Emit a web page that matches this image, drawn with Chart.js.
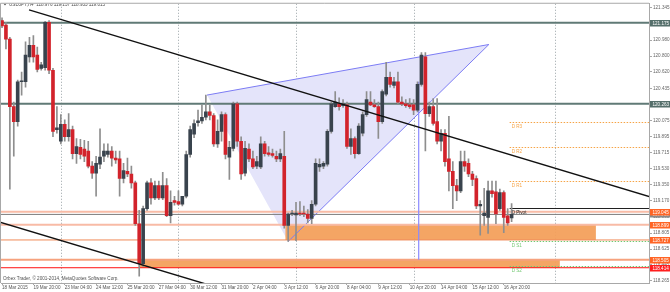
<!DOCTYPE html>
<html>
<head>
<meta charset="utf-8">
<title>USDJPY,H4</title>
<script src="https://cdn.jsdelivr.net/npm/chart.js@4.4.1/dist/chart.umd.min.js"></script>
<style>
  html, body { margin: 0; padding: 0; background: #fff; }
  canvas { display: block; }
</style>
</head>
<body>
<canvas id="chart" width="670" height="292"></canvas>
<script>
// H4 candles, 18 Mar 2015 12:00 .. 17 Apr 2015 04:00
const opens = [
  121.20, 121.15, 120.99, 120.23, 120.06, 120.51, 120.51, 120.79, 120.92, 120.81,
  120.66, 120.67, 121.18, 120.64, 119.97, 119.84, 120.03, 119.89, 119.97, 119.70,
  119.77, 119.75, 119.73, 119.56, 119.48, 119.58, 119.67, 119.69, 119.73, 119.65,
  119.64, 119.42, 119.50, 119.47, 119.37, 118.91, 118.46, 119.08, 119.37, 119.20,
  119.34, 119.20, 119.34, 119.00, 119.17, 119.16, 119.13, 119.22, 119.69, 119.92,
  120.05, 120.07, 120.11, 120.17, 120.13, 119.81, 119.95, 120.14, 119.66, 119.76,
  120.26, 119.84, 119.48, 119.75, 119.64, 119.56, 119.55, 119.81, 119.71, 119.70,
  119.67, 119.64, 119.67, 118.89, 119.02, 119.01, 119.03, 119.03, 119.02, 118.97,
  119.13, 119.55, 119.56, 119.58, 119.95, 120.23, 120.26, 120.24, 120.25, 119.78,
  119.87, 119.70, 119.93, 120.14, 120.28, 120.25, 120.23, 120.06, 120.37, 120.56,
  120.47, 120.51, 120.28, 120.26, 120.25, 120.25, 120.19, 120.48, 120.79, 120.15,
  120.23, 120.06, 119.84, 119.93, 119.64, 119.50, 119.34, 119.28, 119.61, 119.59,
  119.47, 119.42, 119.11, 119.00, 118.98, 119.28, 119.27, 119.08, 119.26, 119.00,
  118.976
];
const highs = [
  121.23, 121.18, 121.01, 120.28, 120.53, 120.62, 120.96, 121.01, 121.03, 120.90,
  120.73, 121.19, 121.20, 120.66, 120.23, 120.14, 120.08, 120.15, 120.01, 119.87,
  119.86, 119.85, 119.84, 119.61, 119.67, 119.98, 119.81, 119.81, 119.78, 119.73,
  119.73, 119.59, 119.65, 119.56, 119.39, 119.06, 119.11, 119.39, 119.42, 119.39,
  119.39, 119.49, 119.42, 119.28, 119.22, 119.28, 119.22, 119.73, 120.01, 120.08,
  120.19, 120.25, 120.36, 120.25, 120.15, 120.08, 120.17, 120.16, 119.84, 120.28,
  120.28, 119.89, 119.84, 119.81, 119.73, 119.67, 119.89, 119.84, 119.78, 119.75,
  119.73, 119.75, 119.95, 119.03, 119.06, 119.15, 119.16, 119.11, 119.07, 119.17,
  119.64, 119.64, 119.61, 119.97, 120.28, 120.40, 120.33, 120.31, 120.28, 119.98,
  119.89, 120.04, 120.17, 120.40, 120.40, 120.31, 120.28, 120.42, 120.73, 120.62,
  120.56, 120.62, 120.34, 120.31, 120.32, 120.31, 120.51, 120.84, 120.84, 120.28,
  120.32, 120.32, 119.97, 119.97, 120.12, 119.61, 119.41, 119.73, 119.73, 119.64,
  119.50, 119.45, 119.17, 119.31, 119.39, 119.39, 119.39, 119.30, 119.28, 119.08,
  119.137
];
const lows = [
  121.12, 120.88, 119.30, 119.67, 120.01, 120.36, 120.45, 120.73, 120.73, 120.62,
  120.64, 120.64, 120.60, 119.89, 119.93, 119.81, 119.84, 119.84, 119.64, 119.59,
  119.64, 119.61, 119.54, 119.42, 119.22, 119.53, 119.61, 119.66, 119.56, 119.59,
  119.22, 119.37, 119.44, 119.31, 118.89, 118.32, 118.43, 119.06, 119.13, 119.18,
  119.18, 119.18, 118.99, 118.92, 119.12, 119.12, 119.11, 119.20, 119.66, 119.88,
  120.01, 120.04, 120.08, 120.08, 119.78, 119.77, 119.84, 119.64, 119.41, 119.73,
  119.78, 119.41, 119.45, 119.61, 119.53, 119.53, 119.53, 119.67, 119.67, 119.66,
  119.61, 119.61, 118.86, 118.71, 119.00, 118.72, 119.00, 118.99, 118.92, 118.91,
  119.11, 119.50, 119.53, 119.56, 119.93, 120.22, 120.19, 120.22, 119.76, 119.69,
  119.65, 119.69, 119.90, 120.12, 120.24, 120.22, 119.87, 120.04, 120.35, 120.45,
  120.44, 120.26, 120.24, 120.22, 120.21, 120.14, 120.17, 120.46, 119.73, 120.12,
  120.02, 119.81, 119.73, 119.56, 119.28, 119.08, 119.17, 119.26, 119.50, 119.44,
  119.34, 119.08, 118.78, 118.89, 118.80, 119.21, 118.91, 119.06, 118.81, 118.89,
  118.933
];
const closes = [
  121.14, 120.99, 120.23, 120.06, 120.51, 120.52, 120.81, 120.92, 120.79, 120.65,
  120.70, 121.18, 120.64, 119.95, 119.99, 120.03, 119.89, 119.97, 119.70, 119.78,
  119.69, 119.67, 119.56, 119.48, 119.59, 119.66, 119.73, 119.73, 119.65, 119.63,
  119.42, 119.51, 119.47, 119.37, 118.91, 118.46, 119.08, 119.37, 119.20, 119.34,
  119.20, 119.34, 119.00, 119.15, 119.15, 119.13, 119.22, 119.69, 119.97, 120.04,
  120.07, 120.11, 120.17, 120.13, 119.81, 119.95, 120.14, 119.69, 119.77, 120.26,
  119.84, 119.47, 119.76, 119.64, 119.55, 119.61, 119.81, 119.70, 119.69, 119.68,
  119.64, 119.70, 118.89, 119.02, 119.02, 119.03, 119.02, 119.02, 118.97, 119.13,
  119.59, 119.58, 119.59, 119.95, 120.26, 120.28, 120.23, 120.26, 119.78, 119.87,
  119.70, 120.01, 120.14, 120.31, 120.25, 120.23, 120.06, 120.40, 120.56, 120.48,
  120.51, 120.28, 120.26, 120.24, 120.23, 120.19, 120.48, 120.81, 120.15, 120.23,
  120.04, 119.84, 119.93, 119.61, 119.50, 119.34, 119.28, 119.61, 119.56, 119.47,
  119.41, 119.11, 119.13, 119.03, 119.28, 119.25, 119.02, 119.26, 118.98, 118.92,
  119.015
];

// time axis: one label every 8 bars
const timeLabels = ['18 Mar 2015', '19 Mar 20:00', '23 Mar 04:00', '24 Mar 12:00', '25 Mar 20:00',
  '27 Mar 04:00', '30 Mar 12:00', '31 Mar 20:00', '2 Apr 04:00', '3 Apr 12:00', '6 Apr 20:00',
  '8 Apr 04:00', '9 Apr 12:00', '10 Apr 20:00', '14 Apr 04:00', '15 Apr 12:00', '16 Apr 20:00'];
const labelStep = 8;
const weekStarts = [15, 45, 75, 105, 141];

// price axis
const priceTicks = [121.345, 121.160, 120.980, 120.800, 120.620, 120.435, 120.255, 120.075, 119.895,
  119.715, 119.530, 119.350, 119.170, 118.990, 118.805, 118.625, 118.445, 118.265];

// horizontal lines and their price tags
const levelPrices = [121.175, 120.263, 119.045, 119.015, 118.899, 118.727, 118.505, 118.414];

// zones: [top, bottom, fromBar, toBar]
const zoneTop = [118.899, 118.505];
const zoneBottom = [118.727, 118.414];
const zoneFrom = [72.3, 34.9];
const zoneTo = [151.5, 142.3];

// triangle anchors (bar, price)
const triBars = [52.3, 124.2, 73.0];
const triPrices = [120.36, 120.93, 118.71];

// channel lines (two anchors each)
const upperBars = [6.9, 164.8];
const upperPrices = [121.32, 119.22];
const lowerBars = [0, 51.3];
const lowerPrices = [118.92, 118.24];

// vertical marker
const markerBar = 106.3;
const markerPrices = [120.51, 118.505];

// daily pivots
const pivotNames = ['D R3', 'D R2', 'D R1', 'D Pivot', 'D S1', 'D S2'];
const pivotPrices = [120.06, 119.77, 119.39, 119.09, 118.71, 118.43];
const pivotStart = 129.5;

const titleText = 'USDJPY,H4  118.976 119.137 118.933 119.015';
const footerText = 'Orbex Trader, \u00a9 2001-2014, MetaQuotes Software Corp.';

// styles
const FONT = '"Liberation Sans", Arial, sans-serif';
const levelStyle = [
  { color: '#607a76', width: 2 }, { color: '#607a76', width: 2 },
  { color: '#f8bba6', width: 2 }, { color: '#7c7c7c', width: 1 },
  { color: '#f8bba6', width: 2 }, { color: '#f08a58', width: 1 },
  { color: '#f6a27e', width: 2 }, { color: '#ff1010', width: 1 }
];
const tagColors = ['#556f6b', '#556f6b', '#ff6424', '#8a8a8a', '#ff6424', '#ff6424', '#ff6424', '#ff1e1e'];
const tagOrder = [0, 1, 3, 2, 4, 5, 6, 7];
const pivotColors = ['#f6a446', '#f6a446', '#f6a446', '#202020', '#72c872', '#72c872'];

Chart.defaults.font.family = FONT;

const bars = opens.map((_, i) => i);
const wickData = bars.map(i => ({ x: i, y: [lows[i], highs[i]] }));
const bodyData = bars.map(i => ({ x: i, y: [opens[i], closes[i]] }));
const bodyColors = bars.map(i => closes[i] >= opens[i] ? '#39434d' : '#d2232b');

function seg(ctx, x1, y1, x2, y2) {
    ctx.beginPath();
    ctx.moveTo(x1, y1);
    ctx.lineTo(x2, y2);
    ctx.stroke();
}

const objectsPlugin = {
    id: 'objects',
    beforeDatasetsDraw(chart) {
        const { ctx, chartArea: a, scales: { x, y } } = chart;
        ctx.save();
        ctx.beginPath();
        ctx.rect(a.left, a.top, a.right - a.left, a.bottom - a.top);
        ctx.clip();

        // weekly separators
        ctx.strokeStyle = '#98a2a6';
        ctx.lineWidth = 1;
        ctx.setLineDash([1, 2]);
        weekStarts.forEach(b => {
            const px = Math.round(x.getPixelForValue(b)) + 0.5;
            seg(ctx, px, a.top, px, a.bottom);
        });
        ctx.setLineDash([]);

        // triangle
        const tp = triBars.map((b, k) => [x.getPixelForValue(b), y.getPixelForValue(triPrices[k])]);
        ctx.fillStyle = '#e4e4fa';
        ctx.beginPath();
        ctx.moveTo(tp[0][0], tp[0][1]);
        ctx.lineTo(tp[1][0], tp[1][1]);
        ctx.lineTo(tp[2][0], tp[2][1]);
        ctx.closePath();
        ctx.fill();

        // zones
        ctx.fillStyle = 'rgba(243, 160, 92, 0.95)';
        zoneTop.forEach((t, k) => {
            const x1 = x.getPixelForValue(zoneFrom[k]);
            const x2 = x.getPixelForValue(zoneTo[k]);
            const y1 = y.getPixelForValue(t);
            const y2 = y.getPixelForValue(zoneBottom[k]);
            ctx.fillRect(x1, y1, x2 - x1, y2 - y1);
        });

        // triangle edges
        ctx.strokeStyle = '#7c7cf4';
        ctx.lineWidth = 1;
        seg(ctx, tp[0][0], tp[0][1], tp[1][0], tp[1][1]);
        seg(ctx, tp[1][0], tp[1][1], tp[2][0], tp[2][1]);

        // horizontal levels
        levelPrices.forEach((p, k) => {
            const py = y.getPixelForValue(p);
            ctx.strokeStyle = levelStyle[k].color;
            ctx.lineWidth = levelStyle[k].width;
            seg(ctx, a.left, py, a.right, py);
        });

        // vertical marker
        const mx = x.getPixelForValue(markerBar);
        ctx.strokeStyle = '#8a8aff';
        ctx.lineWidth = 1.2;
        seg(ctx, mx, y.getPixelForValue(markerPrices[0]), mx, y.getPixelForValue(markerPrices[1]));

        // pivots
        const px0 = x.getPixelForValue(pivotStart);
        ctx.font = '4.6px ' + FONT;
        ctx.textBaseline = 'middle';
        ctx.textAlign = 'left';
        pivotPrices.forEach((p, k) => {
            const py = Math.round(y.getPixelForValue(p)) + 0.5;
            ctx.strokeStyle = pivotColors[k];
            ctx.lineWidth = 1;
            ctx.setLineDash(k === 3 ? [] : [1.5, 1.5]);
            seg(ctx, px0, py, a.right, py);
            ctx.setLineDash([]);
            ctx.fillStyle = pivotColors[k];
            ctx.fillText(pivotNames[k], px0 + 2, py + 4);
        });
        ctx.restore();
    },
    afterDatasetsDraw(chart) {
        const { ctx, chartArea: a, scales: { x, y } } = chart;
        ctx.save();
        ctx.beginPath();
        ctx.rect(a.left, a.top, a.right - a.left, a.bottom - a.top);
        ctx.clip();

        // channel lines
        ctx.strokeStyle = '#111';
        ctx.lineWidth = 1.4;
        const ux1 = x.getPixelForValue(upperBars[0]), uy1 = y.getPixelForValue(upperPrices[0]);
        const ux2 = x.getPixelForValue(upperBars[1]), uy2 = y.getPixelForValue(upperPrices[1]);
        const us = (uy2 - uy1) / (ux2 - ux1);
        seg(ctx, ux1, uy1, a.right + 5, uy1 + us * (a.right + 5 - ux1));
        const lx1 = x.getPixelForValue(lowerBars[0]), ly1 = y.getPixelForValue(lowerPrices[0]);
        const lx2 = x.getPixelForValue(lowerBars[1]), ly2 = y.getPixelForValue(lowerPrices[1]);
        const ls = (ly2 - ly1) / (lx2 - lx1);
        seg(ctx, a.left - 5, ly1 + ls * (a.left - 5 - lx1), a.right, ly1 + ls * (a.right - lx1));

        // title and footer
        ctx.fillStyle = '#505050';
        ctx.beginPath();
        ctx.moveTo(3, 3); ctx.lineTo(7, 3); ctx.lineTo(5, 5.5); ctx.closePath();
        ctx.fill();
        ctx.font = '4.6px ' + FONT;
        ctx.textBaseline = 'middle';
        ctx.textAlign = 'left';
        ctx.fillStyle = '#4a4a4a';
        ctx.fillText(titleText, 9, 4.5);
        ctx.fillStyle = '#505050';
        ctx.fillText(footerText, 3, a.bottom - 4.5);
        ctx.restore();

        // frame (top and left)
        ctx.save();
        ctx.strokeStyle = '#a8a8a8';
        ctx.lineWidth = 1;
        seg(ctx, a.left - 0.5, a.top - 0.5, a.right, a.top - 0.5);
        seg(ctx, a.left - 0.5, a.top - 0.5, a.left - 0.5, a.bottom);
        ctx.restore();
    },
    afterDraw(chart) {
        const { ctx, chartArea: a, scales: { y } } = chart;
        ctx.save();
        ctx.font = '4.6px ' + FONT;
        ctx.textBaseline = 'middle';
        ctx.textAlign = 'left';
        tagOrder.forEach(k => {
            const py = Math.round(y.getPixelForValue(levelPrices[k]));
            ctx.fillStyle = tagColors[k];
            ctx.fillRect(a.right + 1, py - 3, 20, 6.5);
            ctx.fillStyle = '#ffffff';
            ctx.fillText(levelPrices[k].toFixed(3), a.right + 3.5, py + 0.3);
        });
        ctx.restore();
    }
};

new Chart(document.getElementById('chart'), {
    type: 'bar',
    data: {
        datasets: [
            {
                label: 'body',
                data: bodyData,
                backgroundColor: bodyColors,
                barThickness: 3,
                minBarLength: 1,
                grouped: false,
                order: 0
            },
            {
                label: 'wick',
                data: wickData,
                backgroundColor: '#8e8e8e',
                barThickness: 1,
                grouped: false,
                order: 1
            }
        ]
    },
    options: {
        responsive: false,
        animation: false,
        layout: { padding: { top: 1, left: 1, right: 0, bottom: 0 } },
        plugins: {
            legend: { display: false },
            tooltip: { enabled: false }
        },
        scales: {
            x: {
                type: 'linear',
                offset: false,
                min: -0.26,
                max: 165.05,
                grid: { offset: false, drawOnChartArea: false, tickLength: 2, color: '#a8a8a8' },
                border: { color: '#a8a8a8' },
                afterBuildTicks: scale => {
                    scale.ticks = timeLabels.map((_, k) => ({ value: k * labelStep }));
                },
                afterFit: scale => { scale.height = 9; },
                ticks: {
                    autoSkip: false,
                    maxRotation: 0,
                    align: 'start',
                    padding: 0,
                    color: '#555',
                    font: { size: 4.6 },
                    callback: v => timeLabels[Math.round(v / labelStep)]
                }
            },
            y: {
                position: 'right',
                beginAtZero: false,
                min: 118.242,
                max: 121.389,
                grid: { drawOnChartArea: false, tickLength: 3, color: '#a8a8a8' },
                border: { color: '#a8a8a8' },
                afterBuildTicks: scale => {
                    scale.ticks = priceTicks.map(v => ({ value: v }));
                },
                afterFit: scale => { scale.width = 21; },
                ticks: {
                    autoSkip: false,
                    padding: 1,
                    color: '#666',
                    font: { size: 4.6 },
                    callback: v => v.toFixed(3)
                }
            }
        }
    },
    plugins: [objectsPlugin]
});
</script>
</body>
</html>
